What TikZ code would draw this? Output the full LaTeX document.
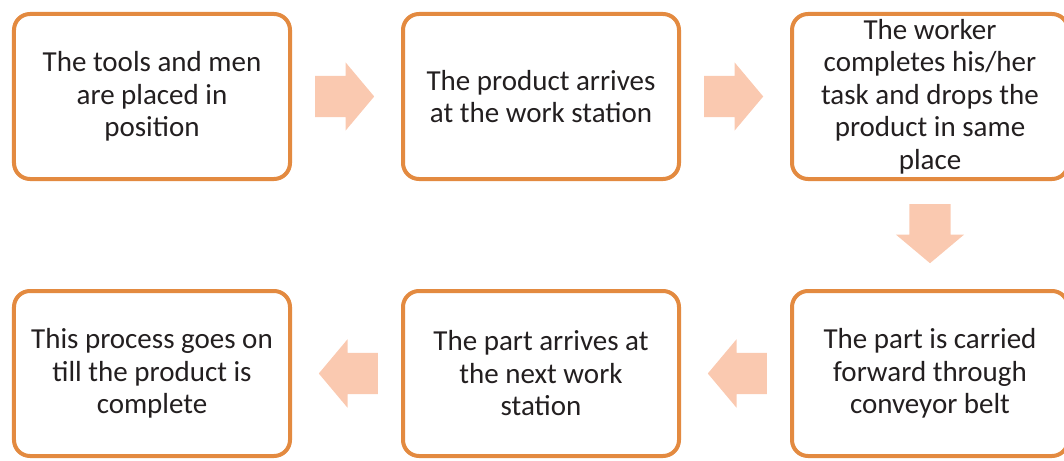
\documentclass[tikz,border=0pt]{standalone}
\usepackage{fontspec}
\setmainfont{Carlito}
\usetikzlibrary{shapes.arrows, positioning}
\definecolor{boxorange}{RGB}{227, 138, 64}
\definecolor{arrowpeach}{RGB}{250, 201, 176}
\definecolor{textgray}{RGB}{35, 31, 32}

\begin{document}
\begin{tikzpicture}[
    x=1pt, y=1pt,
    node distance=108pt and 109pt,
    stepbox/.style={rectangle, rounded corners=16pt, line width=4pt, draw=boxorange, fill=white, minimum width=276pt, minimum height=165pt, inner sep=1pt, align=center, text=textgray, font=\fontsize{29}{32.5}\selectfont},
    flow/.style={single arrow, fill=arrowpeach, draw=none, minimum height=59pt, single arrow head extend=13.5pt, single arrow tip angle=100, inner xsep=0pt, inner ysep=20.5pt, anchor=tail}
]
\useasboundingbox (-152,96.5) rectangle (912,-363.5);

\node (tools) [stepbox] {The tools and men\\are placed in\\position};
\node (arrives) [stepbox, right=of tools] {The product arrives\\at the work station};
\node (worker) [stepbox, right=of arrives] {The worker\\completes his/her\\task and drops the\\product in same\\place};
\node (carried) [stepbox, below=of worker] {The part is carried\\forward through\\conveyor belt};
\node (nextstation) [stepbox, left=of carried] {The part arrives at\\the next work\\station};
\node (complete) [stepbox, left=of nextstation] {This process goes on\\till the product is\\complete};

\node (flow1) [flow] at ([xshift=23pt]tools.east) {};
\node (flow2) [flow] at ([xshift=23pt]arrives.east) {};
\node (flow3) [flow, rotate=-90] at ([yshift=-23pt]worker.south) {};
\node (flow4) [flow, rotate=180] at ([xshift=-23pt]carried.west) {};
\node (flow5) [flow, rotate=180] at ([xshift=-23pt]nextstation.west) {};

\end{tikzpicture}
\end{document}
